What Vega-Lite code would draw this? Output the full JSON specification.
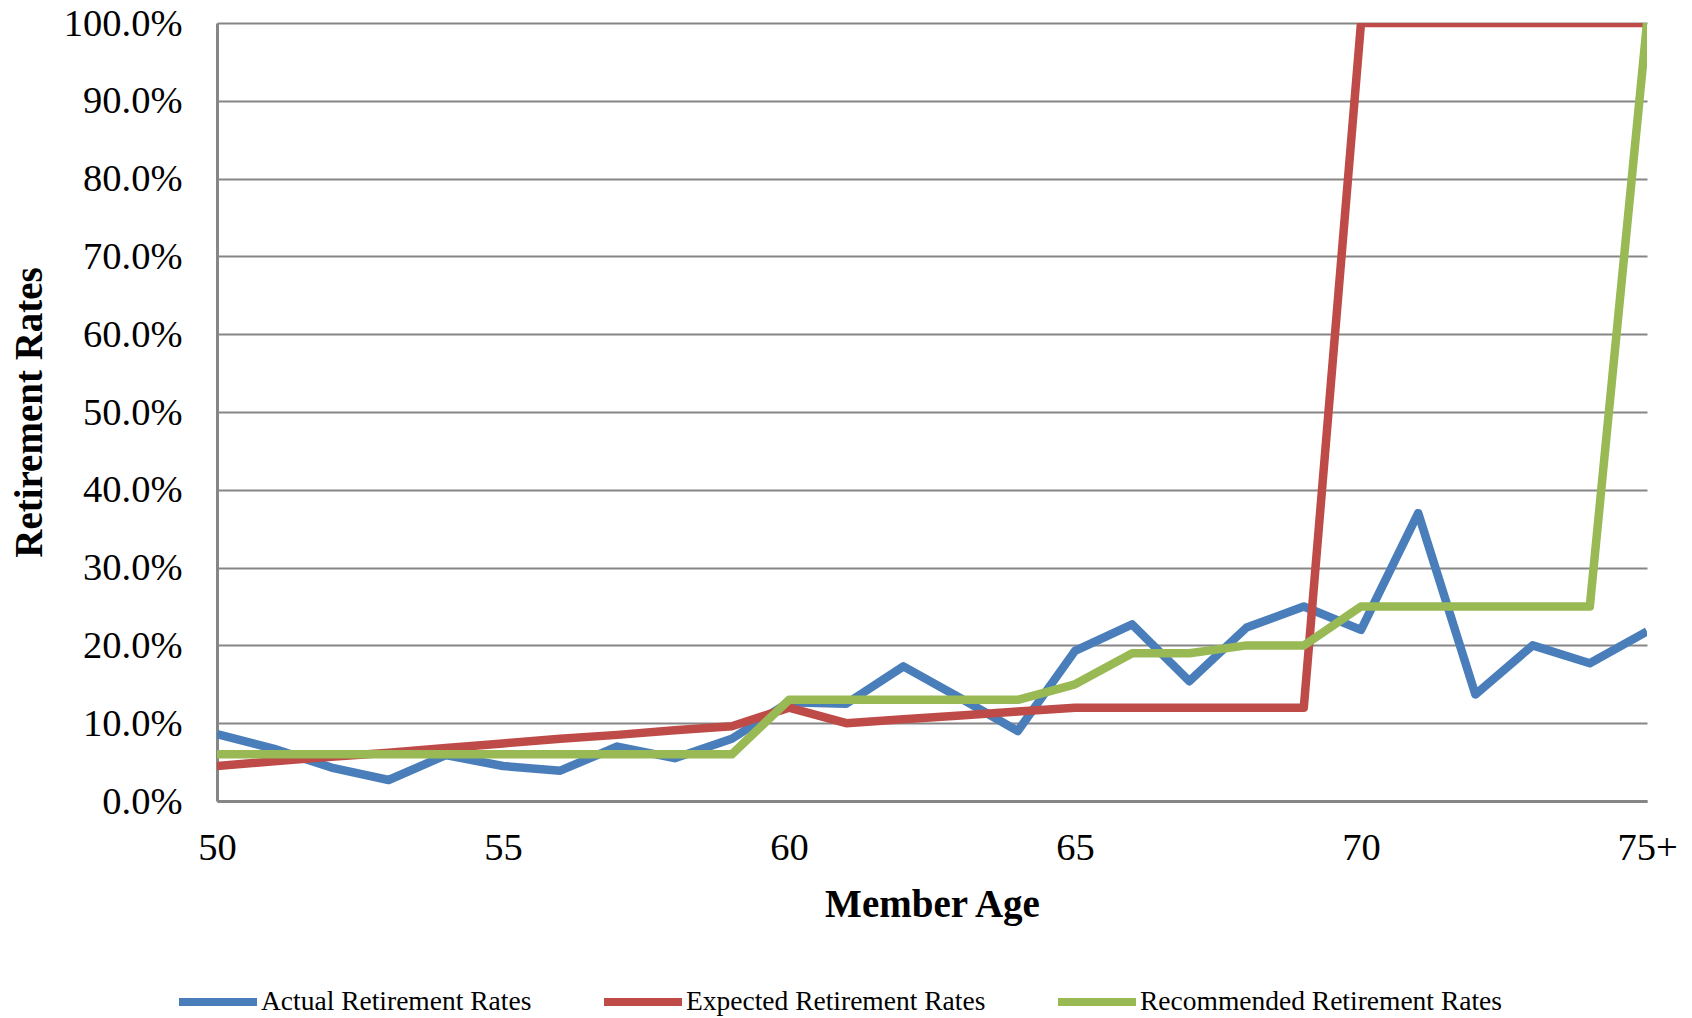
{
  "$schema": "https://vega.github.io/schema/vega-lite/v6.json",
  "width": 1430,
  "height": 778,
  "autosize": {"type": "none"},
  "padding": {"left": 217, "top": 23, "right": 45, "bottom": 217},
  "background": "white",
  "config": {
    "font": "Liberation Serif",
    "view": {"stroke": null}
  },
  "data": {
    "values": [
      {"age": 50, "series": "Actual Retirement Rates", "rate": 0.086},
      {"age": 51, "series": "Actual Retirement Rates", "rate": 0.067},
      {"age": 52, "series": "Actual Retirement Rates", "rate": 0.043},
      {"age": 53, "series": "Actual Retirement Rates", "rate": 0.027},
      {"age": 54, "series": "Actual Retirement Rates", "rate": 0.059},
      {"age": 55, "series": "Actual Retirement Rates", "rate": 0.045},
      {"age": 56, "series": "Actual Retirement Rates", "rate": 0.039},
      {"age": 57, "series": "Actual Retirement Rates", "rate": 0.070},
      {"age": 58, "series": "Actual Retirement Rates", "rate": 0.055},
      {"age": 59, "series": "Actual Retirement Rates", "rate": 0.080},
      {"age": 60, "series": "Actual Retirement Rates", "rate": 0.127},
      {"age": 61, "series": "Actual Retirement Rates", "rate": 0.125},
      {"age": 62, "series": "Actual Retirement Rates", "rate": 0.173},
      {"age": 63, "series": "Actual Retirement Rates", "rate": 0.132},
      {"age": 64, "series": "Actual Retirement Rates", "rate": 0.090},
      {"age": 65, "series": "Actual Retirement Rates", "rate": 0.193},
      {"age": 66, "series": "Actual Retirement Rates", "rate": 0.227},
      {"age": 67, "series": "Actual Retirement Rates", "rate": 0.154},
      {"age": 68, "series": "Actual Retirement Rates", "rate": 0.223},
      {"age": 69, "series": "Actual Retirement Rates", "rate": 0.250},
      {"age": 70, "series": "Actual Retirement Rates", "rate": 0.220},
      {"age": 71, "series": "Actual Retirement Rates", "rate": 0.370},
      {"age": 72, "series": "Actual Retirement Rates", "rate": 0.137},
      {"age": 73, "series": "Actual Retirement Rates", "rate": 0.200},
      {"age": 74, "series": "Actual Retirement Rates", "rate": 0.177},
      {"age": 75, "series": "Actual Retirement Rates", "rate": 0.218},
      {"age": 50, "series": "Expected Retirement Rates", "rate": 0.045},
      {"age": 51, "series": "Expected Retirement Rates", "rate": 0.051},
      {"age": 52, "series": "Expected Retirement Rates", "rate": 0.057},
      {"age": 53, "series": "Expected Retirement Rates", "rate": 0.062},
      {"age": 54, "series": "Expected Retirement Rates", "rate": 0.068},
      {"age": 55, "series": "Expected Retirement Rates", "rate": 0.074},
      {"age": 56, "series": "Expected Retirement Rates", "rate": 0.080},
      {"age": 57, "series": "Expected Retirement Rates", "rate": 0.085},
      {"age": 58, "series": "Expected Retirement Rates", "rate": 0.091},
      {"age": 59, "series": "Expected Retirement Rates", "rate": 0.096},
      {"age": 60, "series": "Expected Retirement Rates", "rate": 0.120},
      {"age": 61, "series": "Expected Retirement Rates", "rate": 0.100},
      {"age": 62, "series": "Expected Retirement Rates", "rate": 0.105},
      {"age": 63, "series": "Expected Retirement Rates", "rate": 0.110},
      {"age": 64, "series": "Expected Retirement Rates", "rate": 0.115},
      {"age": 65, "series": "Expected Retirement Rates", "rate": 0.120},
      {"age": 66, "series": "Expected Retirement Rates", "rate": 0.120},
      {"age": 67, "series": "Expected Retirement Rates", "rate": 0.120},
      {"age": 68, "series": "Expected Retirement Rates", "rate": 0.120},
      {"age": 69, "series": "Expected Retirement Rates", "rate": 0.120},
      {"age": 70, "series": "Expected Retirement Rates", "rate": 1.0},
      {"age": 71, "series": "Expected Retirement Rates", "rate": 1.0},
      {"age": 72, "series": "Expected Retirement Rates", "rate": 1.0},
      {"age": 73, "series": "Expected Retirement Rates", "rate": 1.0},
      {"age": 74, "series": "Expected Retirement Rates", "rate": 1.0},
      {"age": 75, "series": "Expected Retirement Rates", "rate": 1.0},
      {"age": 50, "series": "Recommended Retirement Rates", "rate": 0.06},
      {"age": 51, "series": "Recommended Retirement Rates", "rate": 0.06},
      {"age": 52, "series": "Recommended Retirement Rates", "rate": 0.06},
      {"age": 53, "series": "Recommended Retirement Rates", "rate": 0.06},
      {"age": 54, "series": "Recommended Retirement Rates", "rate": 0.06},
      {"age": 55, "series": "Recommended Retirement Rates", "rate": 0.06},
      {"age": 56, "series": "Recommended Retirement Rates", "rate": 0.06},
      {"age": 57, "series": "Recommended Retirement Rates", "rate": 0.06},
      {"age": 58, "series": "Recommended Retirement Rates", "rate": 0.06},
      {"age": 59, "series": "Recommended Retirement Rates", "rate": 0.06},
      {"age": 60, "series": "Recommended Retirement Rates", "rate": 0.13},
      {"age": 61, "series": "Recommended Retirement Rates", "rate": 0.13},
      {"age": 62, "series": "Recommended Retirement Rates", "rate": 0.13},
      {"age": 63, "series": "Recommended Retirement Rates", "rate": 0.13},
      {"age": 64, "series": "Recommended Retirement Rates", "rate": 0.13},
      {"age": 65, "series": "Recommended Retirement Rates", "rate": 0.15},
      {"age": 66, "series": "Recommended Retirement Rates", "rate": 0.19},
      {"age": 67, "series": "Recommended Retirement Rates", "rate": 0.19},
      {"age": 68, "series": "Recommended Retirement Rates", "rate": 0.20},
      {"age": 69, "series": "Recommended Retirement Rates", "rate": 0.20},
      {"age": 70, "series": "Recommended Retirement Rates", "rate": 0.25},
      {"age": 71, "series": "Recommended Retirement Rates", "rate": 0.25},
      {"age": 72, "series": "Recommended Retirement Rates", "rate": 0.25},
      {"age": 73, "series": "Recommended Retirement Rates", "rate": 0.25},
      {"age": 74, "series": "Recommended Retirement Rates", "rate": 0.25},
      {"age": 75, "series": "Recommended Retirement Rates", "rate": 1.0}
    ]
  },
  "mark": {"type": "line", "strokeWidth": 8.5, "strokeJoin": "round", "clip": true},
  "encoding": {
    "x": {
      "field": "age",
      "type": "quantitative",
      "scale": {"domain": [50, 75], "nice": false, "zero": false},
      "axis": {
        "title": "Member Age",
        "values": [50, 55, 60, 65, 70, 75],
        "labelExpr": "datum.value == 75 ? '75+' : datum.label",
        "grid": false,
        "ticks": false,
        "domainColor": "#868686",
        "domainWidth": 3,
        "labelFont": "Liberation Serif",
        "labelFontSize": 38.5,
        "labelColor": "black",
        "labelPadding": 28,
        "labelFlush": false,
        "titleFont": "Liberation Serif",
        "titleFontSize": 39,
        "titleFontWeight": "bold",
        "titleColor": "black",
        "titlePadding": 19
      }
    },
    "y": {
      "field": "rate",
      "type": "quantitative",
      "scale": {"domain": [0, 1], "nice": false},
      "axis": {
        "title": "Retirement Rates",
        "values": [0, 0.1, 0.2, 0.3, 0.4, 0.5, 0.6, 0.7, 0.8, 0.9, 1.0],
        "format": ".1%",
        "grid": true,
        "gridColor": "#868686",
        "gridWidth": 2,
        "gridOpacity": 1,
        "ticks": false,
        "domainColor": "#868686",
        "domainWidth": 3,
        "labelFont": "Liberation Serif",
        "labelFontSize": 38.5,
        "labelColor": "black",
        "labelPadding": 35,
        "titleFont": "Liberation Serif",
        "titleFontSize": 39,
        "titleFontWeight": "bold",
        "titleColor": "black",
        "titlePadding": 14
      }
    },
    "color": {
      "field": "series",
      "type": "nominal",
      "scale": {
        "domain": ["Actual Retirement Rates", "Expected Retirement Rates", "Recommended Retirement Rates"],
        "range": ["#4A7EBB", "#BE4B48", "#98B954"]
      },
      "legend": {
        "title": null,
        "orient": "none",
        "direction": "horizontal",
        "legendX": -42,
        "legendY": 936,
        "symbolType": "stroke",
        "symbolSize": 6084,
        "symbolStrokeWidth": 8,
        "labelFont": "Liberation Serif",
        "labelFontSize": 27.5,
        "labelColor": "black",
        "labelLimit": 0,
        "labelOffset": 0,
        "columnPadding": 56
      }
    }
  }
}
